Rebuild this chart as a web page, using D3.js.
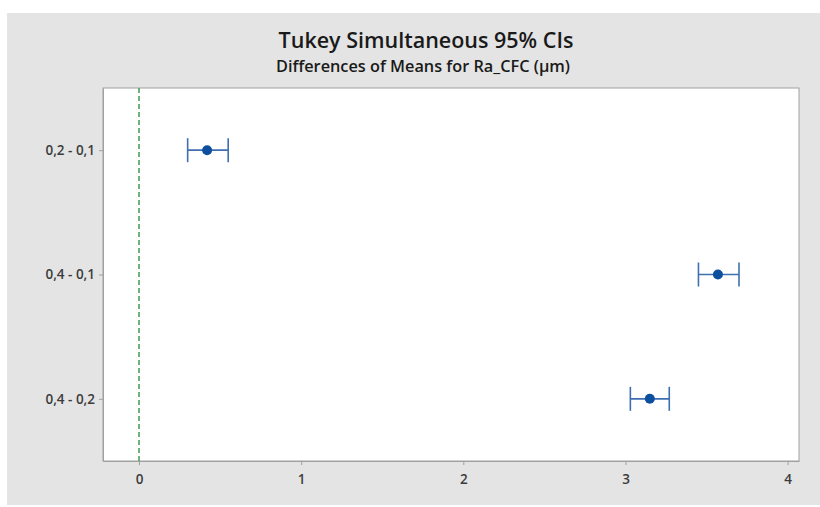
<!DOCTYPE html>
<html>
<head>
<meta charset="utf-8">
<script src="https://cdn.jsdelivr.net/npm/d3@7"></script>
<style>
  body { margin: 0; background: #fff; }
  svg { display: block; font-family: "Open Sans", "Noto Sans", sans-serif; }
</style>
</head>
<body>
<div class="svg"></div>
<script>
  var d3 = window.d3;
  var w = 820;
  var h = 507;

  // data
  var pairs = ["0,2 - 0,1", "0,4 - 0,1", "0,4 - 0,2"];
  var means = [0.42, 3.57, 3.15];
  var lower = [0.30, 3.45, 3.03];
  var upper = [0.55, 3.70, 3.27];
  var xTicks = [0, 1, 2, 3, 4];

  var data = pairs.map(function(p, i) {
    return { pair: p, mean: means[i], lo: lower[i], hi: upper[i] };
  });

  var margin = { top: 88, bottom: 46, left: 103, right: 21 };
  var width = w - margin.left - margin.right;
  var height = h - margin.top - margin.bottom;

  var svg = d3.select(".svg").append("svg").attr("width", w).attr("height", h);

  // grey panel
  svg.append("rect")
     .attr("x", 7).attr("y", 13)
     .attr("width", w - 7).attr("height", h - 15)
     .attr("fill", "#e4e4e4");

  svg.append("text")
     .attr("x", 426).attr("y", 47.5)
     .attr("text-anchor", "middle")
     .attr("font-size", 21.5)
     .attr("font-weight", 600)
     .attr("fill", "#1a1a1a")
     .text("Tukey Simultaneous 95% CIs");

  svg.append("text")
     .attr("x", 423).attr("y", 71.5)
     .attr("text-anchor", "middle")
     .attr("font-size", 16.3)
     .attr("font-weight", 600)
     .attr("fill", "#1a1a1a")
     .text("Differences of Means for Ra_CFC (µm)");

  var chart = svg.append("g")
    .attr("transform", "translate(" + margin.left + "," + margin.top + ")");

  chart.append("rect")
       .attr("width", width).attr("height", height)
       .attr("fill", "#fff")
       .attr("stroke", "#a0a0a0");

  var xScale = d3.scaleLinear().domain([-0.222, 4.07]).range([0, width]);
  var yScale = d3.scalePoint().domain(pairs).range([0, height]).padding(0.5);

  var xAxis = d3.axisBottom(xScale).tickValues(xTicks).tickFormat(d3.format("d"))
                .tickSizeInner(4).tickSizeOuter(0).tickPadding(9);
  var yAxis = d3.axisLeft(yScale).tickSizeInner(4).tickSizeOuter(0).tickPadding(4);

  var gx = chart.append("g")
       .attr("class", "x axis")
       .attr("transform", "translate(0," + height + ")")
       .call(xAxis);
  var gy = chart.append("g")
       .attr("class", "y axis")
       .call(yAxis);

  [gx, gy].forEach(function(g) {
    g.select(".domain").attr("stroke", "#a0a0a0");
    g.selectAll(".tick line").attr("stroke", "#a0a0a0");
    g.selectAll(".tick text").attr("fill", "#3c3c3c").attr("font-size", 13.5)
     .attr("font-weight", 600)
     .attr("font-family", "\"Open Sans\", \"Noto Sans\", sans-serif");
  });

  // zero reference line
  chart.append("line")
       .attr("x1", xScale(0)).attr("x2", xScale(0))
       .attr("y1", 0).attr("y2", height)
       .attr("stroke", "#3f9a55")
       .attr("stroke-width", 1.5)
       .attr("stroke-dasharray", "5,3");

  var ci = chart.selectAll(".ci").data(data).enter().append("g").attr("class", "ci");

  ci.append("line")
    .attr("x1", function(d) { return xScale(d.lo); })
    .attr("x2", function(d) { return xScale(d.hi); })
    .attr("y1", function(d) { return yScale(d.pair); })
    .attr("y2", function(d) { return yScale(d.pair); })
    .attr("stroke", "#3f6fb0").attr("stroke-width", 1.6);

  ci.selectAll(".cap")
    .data(function(d) { return [{ x: d.lo, pair: d.pair }, { x: d.hi, pair: d.pair }]; })
    .enter().append("line")
    .attr("class", "cap")
    .attr("x1", function(d) { return xScale(d.x); })
    .attr("x2", function(d) { return xScale(d.x); })
    .attr("y1", function(d) { return yScale(d.pair) - 12; })
    .attr("y2", function(d) { return yScale(d.pair) + 12; })
    .attr("stroke", "#3f6fb0").attr("stroke-width", 1.6);

  ci.append("circle")
    .attr("cx", function(d) { return xScale(d.mean); })
    .attr("cy", function(d) { return yScale(d.pair); })
    .attr("r", 5)
    .attr("fill", "#0b4f9e");
</script>
</body>
</html>
